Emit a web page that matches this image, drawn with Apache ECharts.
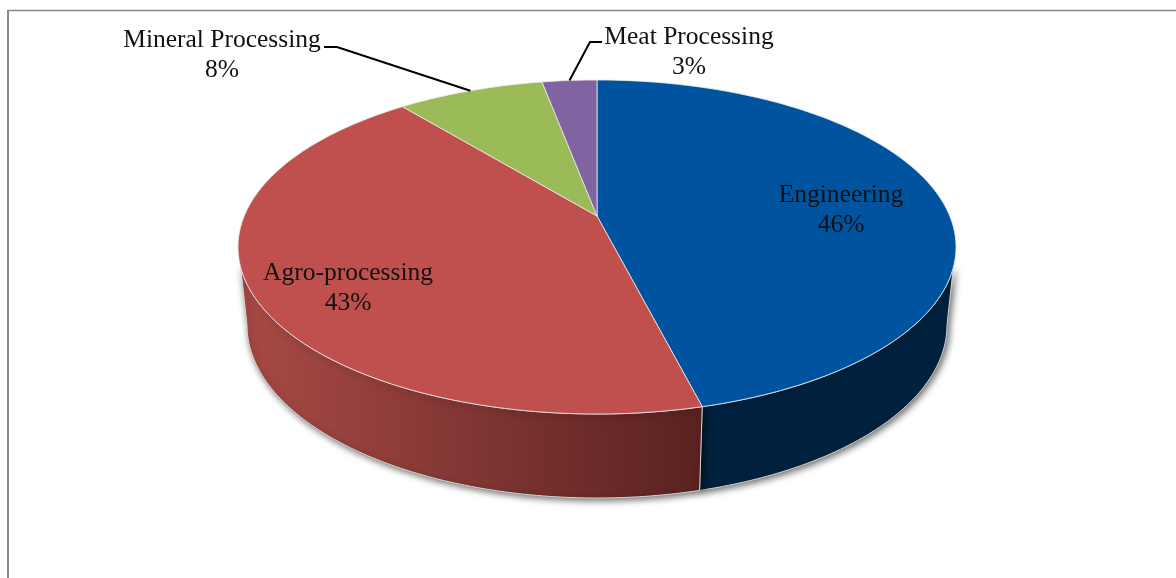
<!DOCTYPE html>
<html>
<head>
<meta charset="utf-8">
<script src="https://cdn.jsdelivr.net/npm/echarts@6/dist/echarts.min.js"></script>
<style>
  html, body { margin: 0; padding: 0; background: #fff; }
  #main { width: 1176px; height: 578px; }
</style>
</head>
<body>
<div id="main"></div>
<script>
// chart data, clockwise from 12 o'clock
var categories = ['Engineering', 'Agro-processing', 'Mineral Processing', 'Meat Processing'];
var shares = [46, 43, 8, 3];

// styles, same order as categories
var topColors = ['#00549f', '#c0504d', '#9bbb59', '#8064a2'];
var wallColors = [['#00223f', '#00213e'], ['#a94a46', '#592220'], ['#7c9a45', '#7c9a45'], ['#65507f', '#65507f']];
var labelAnchors = [[841, 210], [348, 288], [222, 55], [689, 52]];
// only the two small slices have a leader: text side, then elbow
var leaders = { 2: [[324, 47], [337, 47]], 3: [[602, 42], [590, 42]] };

// the tilted disc: top ellipse, bottom ellipse, and where the slices meet
var disc = {
  cx: 597, cy: 247, rx: 359, ry: 167,
  bx: 597, by: 325, brx: 350, bry: 173,
  apexY: 216,
  wallFrom: 97, wallTo: 263 // visible part of the rim, in degrees of ellipse parameter
};

var total = shares.reduce(function (a, b) { return a + b; }, 0);

// share position (0..1) -> unit circle point, seen from the off-centre apex
function rimPoint(frac) {
  var a = frac * 2 * Math.PI;
  var dx = Math.sin(a), dy = -Math.cos(a);
  var ay = (disc.apexY - disc.cy) / disc.ry;
  var b = ay * dy;
  var s = -b + Math.sqrt(b * b - (ay * ay - 1));
  return [s * dx, ay + s * dy];
}
// ellipse parameter in degrees, 0 at the top going clockwise
function rimParam(frac) {
  var p = rimPoint(frac);
  var t = Math.atan2(p[0], -p[1]) * 180 / Math.PI;
  return t < 0 ? t + 360 : t;
}
function onTop(t) {
  var r = t * Math.PI / 180;
  return [disc.cx + disc.rx * Math.sin(r), disc.cy - disc.ry * Math.cos(r)];
}
function onBottom(t) {
  var r = t * Math.PI / 180;
  return [disc.bx + disc.brx * Math.sin(r), disc.by - disc.bry * Math.cos(r)];
}
function sliceStart(i) {
  var sum = 0;
  for (var k = 0; k < i; k++) sum += shares[k];
  return sum / total;
}

function renderWall(params, api) {
  var i = params.dataIndex;
  var from = Math.max(rimParam(sliceStart(i)), disc.wallFrom);
  var end = i === shares.length - 1 ? 360 : rimParam(sliceStart(i + 1));
  var to = Math.min(end, disc.wallTo);
  if (to <= from) return null;
  var pts = [], t;
  for (t = from; t < to; t += 1) pts.push(onTop(t));
  pts.push(onTop(to));
  // bottom edge runs a bit past the top edge so the side flanks bulge like the original
  var low = i === 0 ? 90 : from, high = to >= disc.wallTo ? 270 : to;
  for (t = high; t > low; t -= 1) pts.push(onBottom(t));
  pts.push(onBottom(low));
  return {
    type: 'polygon',
    shape: { points: pts },
    style: {
      fill: new echarts.graphic.LinearGradient(0, 0, 1, 0, [
        { offset: 0, color: wallColors[i][0] },
        { offset: 1, color: wallColors[i][1] }
      ]),
      stroke: '#d4d4d4',
      lineWidth: 1,
      shadowColor: 'rgba(0,0,0,0.6)',
      shadowBlur: 7,
      shadowOffsetX: 2,
      shadowOffsetY: 2
    }
  };
}

function renderTop(params, api) {
  var i = params.dataIndex;
  var from = sliceStart(i);
  var to = from + api.value(0) / total;
  var t0 = from === 0 ? 0 : rimParam(from);
  var t1 = i === shares.length - 1 ? 360 : rimParam(to);
  var pts = [[disc.cx, disc.apexY]];
  for (var t = t0; t < t1; t += 1) pts.push(onTop(t));
  pts.push(onTop(t1));
  return {
    type: 'polygon',
    shape: { points: pts },
    style: { fill: topColors[i], stroke: 'rgba(235,235,235,0.8)', lineWidth: 1 }
  };
}

function renderLabel(params, api) {
  var i = params.dataIndex;
  var children = [{
    type: 'text',
    x: labelAnchors[i][0],
    y: labelAnchors[i][1],
    style: {
      text: categories[i] + '\n' + api.value(0) + '%',
      font: '25.5px "Liberation Serif"',
      lineHeight: 30,
      fill: '#111',
      align: 'center',
      verticalAlign: 'middle'
    }
  }];
  if (leaders[i]) {
    var p = rimParam(sliceStart(i) + api.value(0) / total / 2);
    children.push({
      type: 'polyline',
      shape: { points: leaders[i].concat([onTop(p)]) },
      style: { stroke: '#000', lineWidth: 2, fill: null }
    });
  }
  return { type: 'group', children: children };
}

var seriesData = shares.map(function (v, i) { return { name: categories[i], value: [v] }; });

var chart = echarts.init(document.getElementById('main'));
chart.setOption({
  backgroundColor: '#fff',
  animation: false,
  graphic: [
    { type: 'line', shape: { x1: 8, y1: 10.5, x2: 1176, y2: 10.5 }, style: { stroke: '#888', lineWidth: 1.5 } },
    { type: 'line', shape: { x1: 8, y1: 10, x2: 8, y2: 578 }, style: { stroke: '#888', lineWidth: 2 } }
  ],
  series: [
    { type: 'custom', coordinateSystem: 'none', z: 1, data: seriesData, renderItem: renderWall },
    { type: 'custom', coordinateSystem: 'none', z: 2, data: seriesData, renderItem: renderTop },
    { type: 'custom', coordinateSystem: 'none', z: 3, data: seriesData, renderItem: renderLabel }
  ]
});
</script>
</body>
</html>
